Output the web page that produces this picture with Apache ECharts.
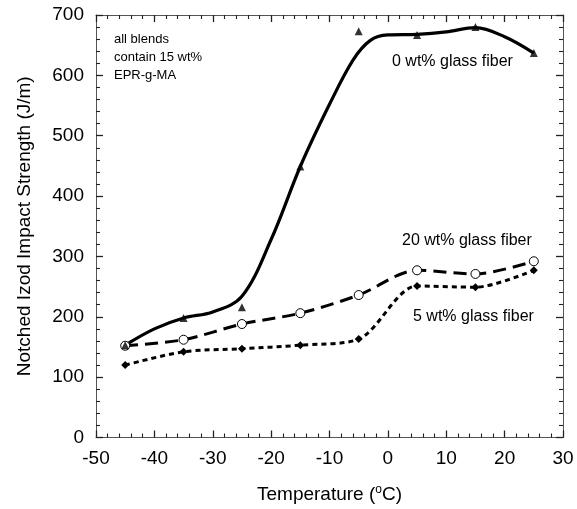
<!DOCTYPE html>
<html><head><meta charset="utf-8">
<script src="https://cdn.jsdelivr.net/npm/echarts@6/dist/echarts.min.js"></script>
<style>html,body{margin:0;padding:0;background:#fff}#c{width:577px;height:509px}</style>
</head><body><div id="c"></div>
<script>
var temps = [-45, -35, -25, -15, -5, 5, 15, 25];
var gf0 = [153, 198, 216, 449, 673, 667, 680, 637];
var gf20 = [152, 162, 188, 206, 236, 277, 271, 292];
var gf5 = [120, 142, 147, 153, 163, 251, 249, 277];
// smooth fitted curve for 0 wt%
var fitT0 = [-45, -40, -35, -30, -25, -20, -15, -10, -6, -3, 0, 5, 10, 15, 20, 25];
var fit0 = [153, 180, 198, 208, 234, 328, 449, 552, 625, 658, 667, 668, 672, 679, 664, 637];
var xTicks = [-50, -40, -30, -20, -10, 0, 10, 20, 30];
var yTicks = [0, 100, 200, 300, 400, 500, 600, 700];

function pairs(xs, ys){ return xs.map(function(x,i){return [x, ys[i]];}); }
var font = 'Liberation Sans, Arial, sans-serif';
var axisCol = '#555';
var tickCol = '#222';
function xa(pos, show){
  return {type:'value', position:pos, min:xTicks[0], max:xTicks[xTicks.length-1], interval:10,
    axisLine:{show:true, onZero:false, lineStyle:{color:axisCol, width:1}},
    axisTick:{show:true, inside:true, length:7, lineStyle:{color:tickCol, width:1.3}},
    minorTick:{show:true, splitNumber:5, length:4, lineStyle:{color:tickCol, width:1.1}},
    splitLine:{show:false},
    axisLabel:{show:show, color:'#000', fontSize:19, fontFamily:font, margin:12},
    name: show ? '{a|Temperature (}{s|o}{a|C)}' : '', nameLocation:'middle', nameGap:46,
    nameTextStyle:{rich:{a:{fontSize:19, fontFamily:font, color:'#000'}, s:{fontSize:12, fontFamily:font, color:'#000', verticalAlign:'top', padding:[0,0,10,0]}}}
  };
}
function ya(pos, show){
  return {type:'value', position:pos, min:yTicks[0], max:yTicks[yTicks.length-1], interval:100,
    axisLine:{show:true, onZero:false, lineStyle:{color:axisCol, width:1}},
    axisTick:{show:true, inside:true, length:7, lineStyle:{color:tickCol, width:1.3}},
    minorTick:{show:true, splitNumber:5, length:4, lineStyle:{color:tickCol, width:1.1}},
    splitLine:{show:false},
    axisLabel:{show:show, color:'#000', fontSize:19, fontFamily:font, margin:12},
    name: show ? 'Notched Izod Impact Strength (J/m)' : '', nameLocation:'middle', nameGap:62,
    nameTextStyle:{fontSize:19, fontFamily:font, color:'#000'}
  };
}
var chart = echarts.init(document.getElementById('c'), null, {renderer:'canvas'});
chart.setOption({
  animation:false,
  backgroundColor:'#fff',
  grid:{left:96, right:14, top:15, bottom:70},
  xAxis:[xa('bottom', true), xa('top', false)],
  yAxis:[ya('left', true), ya('right', false)],
  series:[
    {type:'line', data:pairs(fitT0, fit0), smooth:0.35, showSymbol:false, symbol:'none',
     lineStyle:{color:'#000', width:3.2}, z:2},
    {type:'scatter', data:pairs(temps, gf0), symbol:'triangle', symbolSize:8,
     itemStyle:{color:'#000'}, z:5},
    {type:'line', data:pairs(temps, gf20), smooth:0.3, symbol:'circle', symbolSize:9,
     lineStyle:{color:'#000', width:3, type:[13,7]},
     itemStyle:{color:'#fff', borderColor:'#000', borderWidth:1}, z:4},
    {type:'line', data:pairs(temps, gf5), smooth:0.3, symbol:'diamond', symbolSize:8,
     lineStyle:{color:'#000', width:3, type:[5,4]},
     itemStyle:{color:'#000'}, z:3}
  ],
  graphic:[
    {type:'text', left:114, top:30, style:{text:'all blends\ncontain 15 wt%\nEPR-g-MA', font:'13px '+font, fill:'#000', lineHeight:18}},
    {type:'text', left:392, top:54, style:{text:'0 wt% glass fiber', font:'16px '+font, fill:'#000'}},
    {type:'text', left:402, top:233, style:{text:'20 wt% glass fiber', font:'16px '+font, fill:'#000'}},
    {type:'text', left:413, top:309, style:{text:'5 wt% glass fiber', font:'16px '+font, fill:'#000'}}
  ]
});
</script></body></html>
